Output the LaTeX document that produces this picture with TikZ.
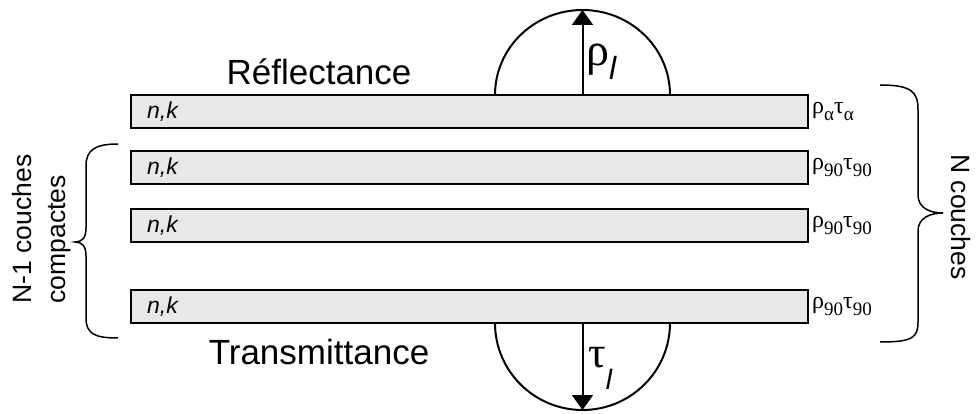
\documentclass[tikz,border=0pt]{standalone}
\usepackage{fontspec}
\setmainfont{Liberation Sans}
\newfontfamily\grk{Liberation Serif}
\newfontfamily\lab{Liberation Sans}
\usetikzlibrary{arrows.meta}
\definecolor{layerfill}{HTML}{E8E8E8}
\tikzset{
  layer/.style={draw=black, line width=2pt, fill=layerfill, minimum width=677pt,
    minimum height=33pt, inner sep=0pt},
  nk/.style={anchor=west, inner sep=0pt, font=\fontsize{23}{26}\selectfont\itshape},
  coef/.style={anchor=west, inner sep=0pt, font=\grk\fontsize{24}{28}\selectfont},
  bigtext/.style={inner sep=0pt, font=\fontsize{35}{40}\selectfont},
  sidetext/.style={inner sep=0pt, align=left, font=\fontsize{26.5}{34}\selectfont},
  dome/.style={line width=2pt},
  flux/.style={line width=2pt, -{Triangle[length=15pt,width=21pt]}},
  brace/.style={line width=1.5pt},
}
\newcommand{\sbs}[1]{\raisebox{-0.28em}{\grk\fontsize{19}{20}\selectfont #1}}
\begin{document}
\begin{tikzpicture}[x=1pt, y=-1pt]
\useasboundingbox (0,0) rectangle (978,414);

% layer stack
\node[layer] (L1) at (469.5,111.5) {};
\node[layer] (L2) at (469.5,167.5) {};
\node[layer] (L3) at (469.5,225.5) {};
\node[layer] (L4) at (469.5,306.5) {};

\foreach \l in {L1,L2,L3,L4}{
  \node[nk] (nk\l) at ([xshift=17pt]\l.west) {n,k};
}
\node[coef] (c1) at ([xshift=3pt]L1.east) {ρ\sbs{α}τ\sbs{α}};
\node[coef] (c2) at ([xshift=3pt]L2.east) {ρ\sbs{90}τ\sbs{90}};
\node[coef] (c3) at ([xshift=3pt]L3.east) {ρ\sbs{90}τ\sbs{90}};
\node[coef] (c4) at ([xshift=3pt]L4.east) {ρ\sbs{90}τ\sbs{90}};

% reflected and transmitted flux
\coordinate (rtop) at (582.5,10);
\coordinate (tbot) at (582.5,410);
\draw[dome] (495,95) arc[start angle=180, end angle=360, x radius=87.5, y radius=85];
\draw[dome] (495,323) arc[start angle=180, end angle=0, x radius=87.5, y radius=87];
\draw[flux] (L1.north -| rtop) -- (rtop);
\draw[flux] (L4.south -| tbot) -- (tbot);

\node[inner sep=0pt, anchor=west] (rho) at (586,62)
  {\grk\fontsize{46}{46}\selectfont ρ\raisebox{-0.3em}{\lab\fontsize{32}{32}\selectfont\itshape l}};
\node[inner sep=0pt, anchor=west] (tau) at (588,368)
  {\grk\fontsize{44}{44}\selectfont τ\raisebox{-0.5em}{\lab\fontsize{28}{28}\selectfont\itshape l}};

\node[bigtext] (refl) at (319,72) {Réflectance};
\node[bigtext] (trans) at (319,352) {Transmittance};

% braces
\draw[brace] (880,85) .. controls (912,85) and (918,92) .. (918,110) -- (918,195)
  .. controls (918,208) and (930,213) .. (943,213)
  .. controls (930,213) and (918,218) .. (918,231) -- (918,322)
  .. controls (918,338) and (912,342) .. (880,342);
\draw[brace] (118,144) .. controls (95,144) and (86,150) .. (86,166) -- (86,228)
  .. controls (86,238) and (82,242) .. (75,242)
  .. controls (82,242) and (86,246) .. (86,256) -- (86,318)
  .. controls (86,334) and (95,338) .. (118,338);

\node[sidetext, rotate=90, anchor=center] (nm1) at (42,229) {N-1 couches\\compactes};
\node[sidetext, rotate=-90] (nc) at (961,217) {N couches};
\end{tikzpicture}
\end{document}
